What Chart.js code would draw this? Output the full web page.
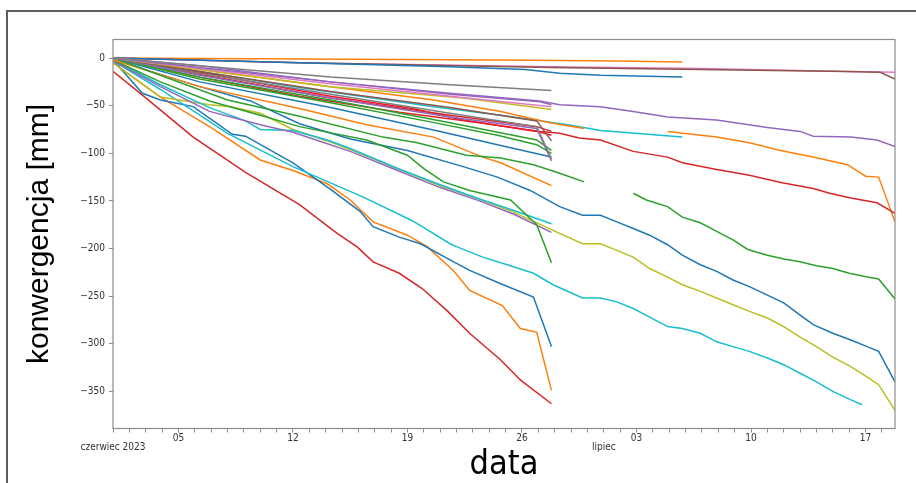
<!DOCTYPE html>
<html lang="pl">
<head>
<meta charset="utf-8">
<title>konwergencja</title>
<script src="https://cdn.jsdelivr.net/npm/chart.js@4.4.1/dist/chart.umd.min.js"></script>
<style>
    html, body { margin: 0; padding: 0; background: #fff; overflow: hidden; }
    #ramka {
        position: absolute; left: 6px; top: 10px; width: 930px; height: 500px;
        border-left: 2px solid #5c5c5c; border-top: 2px solid #5c5c5c;
    }
    #wykres { position: absolute; left: 0; top: 0; }
</style>
</head>
<body>
<div id="ramka"></div>
<canvas id="wykres" width="916" height="483"></canvas>
<script>
// dni liczone od 1 czerwca 2023, konwergencja w mm
var d01 = [0, 1.8, 4.9, 8.1, 11.4, 13.7, 14.9, 15.9, 17.5, 18.9, 20.4, 21.8, 23.7, 24.9, 26.8];
var k01 = [-14, -39, -83, -120, -154, -184, -198, -214, -226, -242, -265, -289, -317, -338, -363];
var d02 = [0, 2.9, 5.9, 9.0, 11.0, 13.1, 14.5, 15.9, 18.0, 19.2, 20.8, 21.8, 23.8, 24.9, 25.9, 26.8];
var k02 = [-5, -41, -72, -107, -118, -132, -149, -172, -186, -198, -223, -244, -260, -284, -288, -349];
var d03 = [0, 1.8, 2.9, 4.9, 7.3, 8.1, 11.0, 13.3, 15.1, 15.9, 17.5, 18.8, 20.6, 21.8, 23.7, 25.7, 26.8];
var k03 = [-2, -37, -44, -51, -80, -82, -110, -138, -161, -177, -188, -195, -212, -223, -237, -251, -303];
var d04 = [0, 2.9, 7.0, 11.0, 13.3, 15.3, 18.2, 18.9, 20.6, 21.0, 22.6, 24.1, 25.7, 26.9, 28.7, 29.8, 30.8, 31.8,
    32.8, 33.9, 34.8, 35.9, 36.9, 37.9, 38.9, 40.0, 41.0, 42.0, 43.0, 44.0, 45.1, 45.8];
var k04 = [-3, -33, -79, -114, -131, -146, -170, -177, -195, -198, -209, -217, -226, -238, -252, -252, -256, -263,
    -272, -282, -284, -289, -298, -303, -308, -315, -322, -331, -340, -350, -359, -364];
var d05 = [0, 2.3, 5.3, 8.4, 11.4, 14.5, 18.0, 21.4, 23.5, 25.5, 27.3, 28.7, 29.8, 30.8, 31.8, 32.8, 33.9, 34.8,
    35.9, 36.9, 37.9, 38.9, 40.0, 41.0, 42.0, 42.8, 44.0, 45.1, 46.1, 46.8, 47.8];
var k05 = [0, -14, -30, -45, -69, -85, -97, -114, -125, -139, -156, -165, -165, -172, -179, -186, -196, -207,
    -217, -224, -233, -240, -249, -257, -270, -280, -289, -296, -303, -308, -340];
var d06 = [0, 2.9, 5.9, 7.2, 9.0, 11.0, 13.1, 14.5, 17.4, 20.0, 22.4, 24.5, 26.9, 28.7, 29.8, 30.8, 31.8, 32.8,
    33.9, 34.8, 35.9, 36.9, 37.9, 38.9, 40.0, 41.0, 42.0, 43.0, 44.0, 45.1, 46.1, 46.8, 47.8];
var k06 = [-5, -41, -49, -51, -58, -75, -87, -96, -116, -134, -148, -162, -181, -195, -195, -202, -209, -221,
    -230, -238, -245, -252, -259, -266, -273, -282, -293, -303, -314, -324, -335, -343, -370];
var d07 = [0, 2.9, 5.9, 9.0, 11.0, 13.1, 14.5, 17.4, 20.0, 22.4, 24.5, 26.8];
var k07 = [-3, -30, -56, -70, -78, -90, -98, -118, -136, -150, -164, -183];
var d08 = [0, 2.9, 5.9, 8.1, 9.0, 11.0, 13.1, 14.5, 17.4, 20.0, 22.4, 24.5, 26.8];
var k08 = [-2, -28, -52, -66, -75, -76, -86, -95, -116, -133, -148, -160, -174];
var d09 = [0, 2.9, 5.9, 9.0, 11.4, 15.5, 18.0, 19.0, 20.2, 21.8, 24.3, 25.9, 26.8];
var k09 = [-2, -25, -45, -60, -72, -86, -102, -116, -130, -139, -149, -175, -215];
var d10 = [0, 7.0, 11.4, 16.5, 18.6, 21.6, 23.7, 25.7, 27.3, 28.8];
var k10 = [0, -44, -61, -83, -89, -102, -105, -112, -121, -130];
var d11 = [0, 5.3, 11.4, 15.5, 19.6, 22.6, 23.7, 26.8];
var k11 = [-2, -30, -53, -70, -83, -104, -110, -134];
var d12 = [0, 5.3, 11.4, 19.6, 23.7, 26.7, 28.8];
var k12 = [0, -12, -26, -44, -56, -68, -74];
var d13 = [0, 5.3, 11.4, 19.6, 23.7, 27.8, 29.8, 34.8];
var k13 = [0, -14, -31, -51, -60, -70, -76, -83];
var d14 = [0, 11.4, 23.7, 30.8, 34.8];
var k14 = [0, -1, -2, -3, -4];
var d15 = [0, 11.4, 20.6, 25.2, 27.3, 29.8, 34.8];
var k15 = [0, -5, -9, -12, -16, -18, -20];
var d16 = [0, 11.4, 26.8, 35.9, 44.9, 47.8];
var k16 = [0, -5, -9, -11, -14, -15];
var d17 = [0, 11.4, 26.8, 35.9, 44.9, 46.9, 47.8];
var k17 = [0, -5, -10, -12, -14, -15, -22];
var d18 = [0, 5.3, 13.3, 20.6, 26.1, 27.3, 29.8, 31.8, 33.9, 36.9, 40.0, 42.0, 42.8, 45.1, 46.7, 47.8];
var k18 = [0, -8, -25, -37, -45, -49, -51, -56, -62, -65, -73, -77, -82, -83, -86, -93];
var d19 = [33.9, 36.9, 38.9, 40.8, 42.8, 44.9, 46.0, 46.8, 47.8];
var k19 = [-77, -83, -89, -97, -104, -112, -124, -125, -172];
var d20 = [0, 5.3, 11.4, 17.5, 22.4, 26.1, 27.3, 28.5, 29.8, 31.8, 33.9, 34.8, 36.9, 38.9, 40.9, 42.8, 43.8,
    45.1, 46.7, 47.8];
var k20 = [0, -20, -40, -57, -68, -77, -79, -84, -86, -98, -104, -110, -117, -123, -131, -137, -142,
    -147, -152, -163];
var d21 = [31.8, 32.6, 33.9, 34.8, 35.9, 36.9, 37.9, 38.8, 40.0, 41.0, 42.0, 43.0, 44.0, 45.0, 46.1, 46.8, 47.8];
var k21 = [-142, -149, -156, -167, -173, -182, -191, -201, -207, -211, -214, -218, -221, -226, -230, -232, -253];
var d22 = [0, 5.3, 13.3, 20.6, 26.8];
var k22 = [0, -8, -20, -28, -34];
var d23 = [0, 5.3, 13.3, 20.6, 26.1, 26.8];
var k23 = [0, -10, -25, -38, -46, -49];
var d24 = [0, 5.3, 13.3, 20.6, 26.8];
var k24 = [0, -11, -27, -40, -51];
var d25 = [0, 5.3, 13.3, 21.4, 26.8];
var k25 = [0, -12, -30, -42, -54];
var d26 = [0, 5.3, 13.3, 18.3, 21.4, 25.9, 26.8];
var k26 = [0, -15, -40, -53, -65, -77, -81];
var d27 = [0, 5.3, 13.3, 20.6, 25.9, 26.8];
var k27 = [0, -14, -35, -52, -66, -87];
var d28 = [0, 5.3, 13.3, 19.4, 23.5, 25.9, 26.8];
var k28 = [0, -22, -47, -67, -81, -91, -100];
var d29 = [0, 5.3, 13.3, 20.0, 23.5, 26.8];
var k29 = [0, -25, -52, -77, -91, -104];
var d30 = [0, 5.3, 13.3, 20.6, 25.9, 26.8];
var k30 = [0, -18, -42, -62, -74, -108];
var d31 = [0, 5.3, 13.3, 20.6, 25.9, 26.8];
var k31 = [0, -16, -38, -58, -72, -106];
var d32 = [0, 5.3, 13.3, 20.6, 25.9, 26.8];
var k32 = [0, -20, -44, -68, -86, -97];
var d33 = [0, 5.3, 13.3, 20.6, 25.9, 26.8];
var k33 = [0, -17, -42, -60, -72, -77];

var dniPodzialki = [4, 11, 18, 25, 32, 39, 46];
var etykietyDni = ['05', '12', '19', '26', '03', '10', '17'];
var dniMiesiecy = [0, 30];
var etykietyMiesiecy = ['czerwiec 2023', 'lipiec'];
var podzialkiY = [0, -50, -100, -150, -200, -250, -300, -350];

(function () {
    var NIEBIESKI = '#1f77b4', POMARANCZ = '#ff7f0e', ZIELONY = '#2ca02c', CZERWONY = '#d62728',
        FIOLET = '#9467bd', BRAZ = '#8c564b', ROZ = '#e377c2', SZARY = '#7f7f7f',
        OLIWKA = '#bcbd22', TURKUS = '#17becf';

    var serie = [
        [d22, k22, SZARY], [d23, k23, FIOLET], [d24, k24, ROZ], [d25, k25, OLIWKA],
        [d27, k27, BRAZ], [d31, k31, SZARY], [d30, k30, FIOLET], [d32, k32, ZIELONY],
        [d28, k28, ZIELONY], [d29, k29, NIEBIESKI], [d33, k33, CZERWONY], [d26, k26, '#ee1a2c'],
        [d12, k12, POMARANCZ], [d13, k13, TURKUS], [d10, k10, ZIELONY], [d11, k11, POMARANCZ],
        [d09, k09, ZIELONY], [d07, k07, FIOLET], [d08, k08, TURKUS], [d06, k06, OLIWKA],
        [d05, k05, NIEBIESKI], [d04, k04, TURKUS], [d03, k03, NIEBIESKI], [d02, k02, POMARANCZ],
        [d01, k01, CZERWONY], [d18, k18, FIOLET], [d20, k20, CZERWONY], [d19, k19, POMARANCZ],
        [d21, k21, ZIELONY], [d15, k15, NIEBIESKI], [d17, k17, BRAZ], [d16, k16, ROZ],
        [d14, k14, POMARANCZ],
    ];

    var FONT_WASKI = '"Liberation Sans Narrow", "DejaVu Sans Condensed", "Liberation Sans", sans-serif';

    var ramkaOsi = {
        id: 'ramkaOsi',
        afterDatasetsDraw: function (chart) {
            var a = chart.chartArea;
            var ctx = chart.ctx;
            ctx.save();
            ctx.strokeStyle = '#8c8c8c';
            ctx.lineWidth = 1.2;
            ctx.strokeRect(a.left, a.top, a.right - a.left, a.bottom - a.top);
            ctx.restore();
        },
    };

    new Chart(document.getElementById('wykres'), {
        type: 'line',
        data: {
            datasets: serie.map(function (s) {
                return {
                    data: s[0].map(function (d, i) { return {x: d, y: s[1][i]}; }),
                    borderColor: s[2],
                    borderWidth: 1.5,
                    pointRadius: 0,
                    tension: 0,
                    fill: false,
                };
            }),
        },
        plugins: [ramkaOsi],
        options: {
            responsive: false,
            animation: false,
            devicePixelRatio: 1,
            layout: {padding: {left: 0, right: 21, top: 39.5, bottom: 0}},
            plugins: {legend: {display: false}, tooltip: {enabled: false}},
            scales: {
                x: {
                    type: 'linear',
                    min: 0,
                    max: 47.8,
                    border: {display: false},
                    grid: {drawOnChartArea: false, tickLength: 4, tickColor: '#8c8c8c'},
                    afterFit: function (s) { s.height = 54.5; },
                    afterBuildTicks: function (s) {
                        var t = [];
                        for (var d = 0; d <= 47; d++) {
                            t.push({value: d});
                        }
                        s.ticks = t;
                    },
                    ticks: {
                        autoSkip: false,
                        maxRotation: 0,
                        padding: 1,
                        color: '#333',
                        font: {family: FONT_WASKI, size: 10, lineHeight: 0.95},
                        callback: function (v) {
                            var i = dniPodzialki.indexOf(v);
                            var m = dniMiesiecy.indexOf(v);
                            if (i !== -1) {
                                return etykietyDni[i];
                            }
                            if (m !== -1) {
                                return ['', etykietyMiesiecy[m]];
                            }
                            return '';
                        },
                    },
                    title: {
                        display: true,
                        text: 'data',
                        color: '#000',
                        font: {family: FONT_WASKI, size: 34, lineHeight: 1.0},
                        padding: {top: 0, bottom: 1},
                    },
                },
                y: {
                    min: -389,
                    max: 19.5,
                    border: {display: false},
                    grid: {drawOnChartArea: false, tickLength: 4, tickColor: '#8c8c8c'},
                    afterFit: function (s) { s.width = 113; },
                    afterBuildTicks: function (s) {
                        s.ticks = podzialkiY.map(function (v) { return {value: v}; });
                    },
                    ticks: {
                        padding: 4,
                        color: '#333',
                        font: {family: FONT_WASKI, size: 10},
                        callback: function (v) {
                            return String(v).replace('-', '\u2212');
                        },
                    },
                    title: {
                        display: true,
                        text: 'konwergencja [mm]',
                        color: '#000',
                        font: {family: '"Liberation Sans", Arial, sans-serif', size: 30},
                        padding: {top: 22, bottom: 0},
                    },
                },
            },
        },
    });
})();
</script>
</body>
</html>
